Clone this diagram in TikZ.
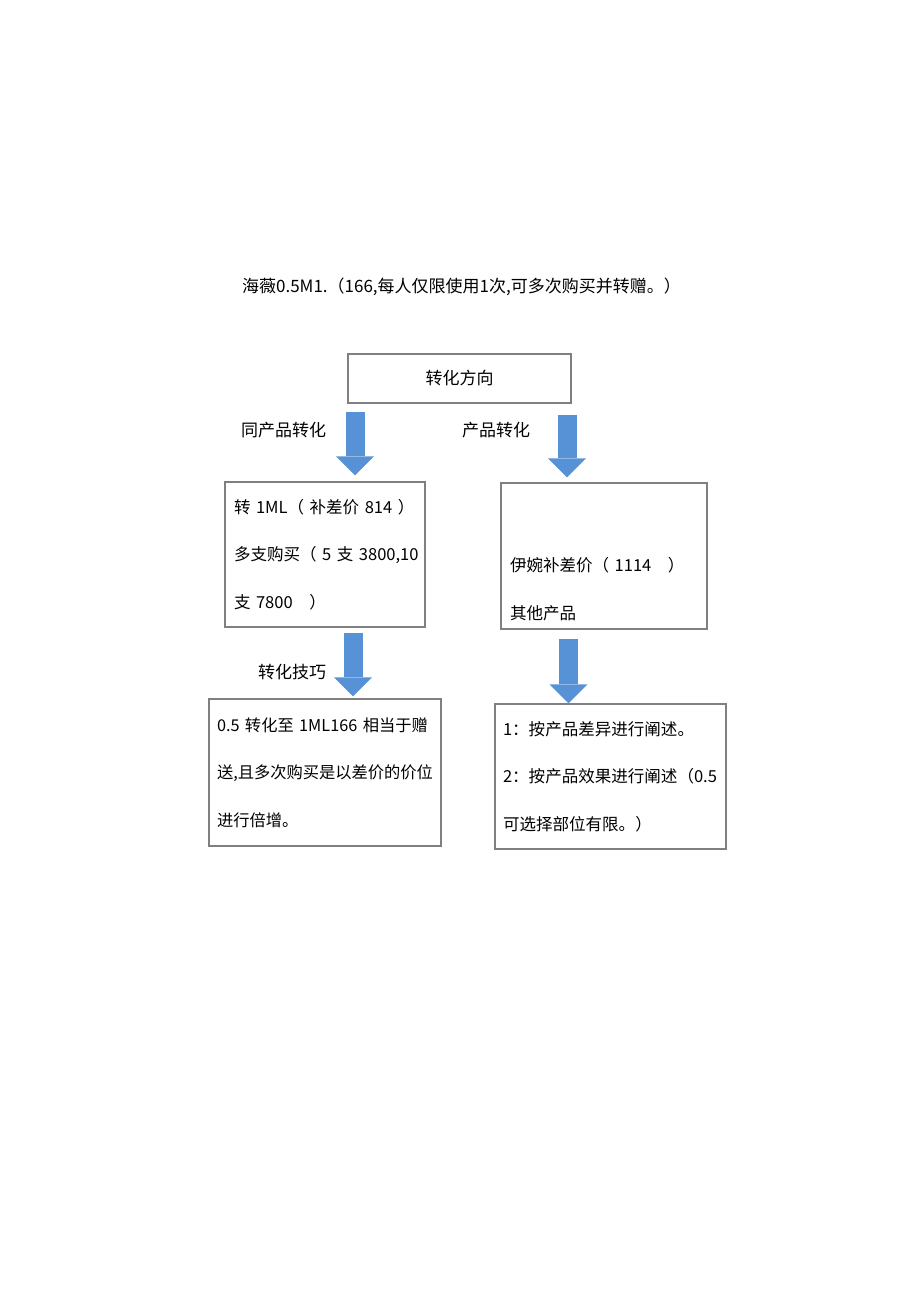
\documentclass[tikz,border=0pt]{standalone}
\usepackage{fontspec}
\setmainfont{Noto Sans CJK SC}
\usetikzlibrary{arrows.meta,calc}
\definecolor{flowblue}{RGB}{88,146,214}
\definecolor{boxgray}{RGB}{128,128,128}

\begin{document}
\begin{tikzpicture}[x=0.75pt, y=-0.75pt,
  tag/.style={font=\fontsize{12.75}{15}\selectfont},
  panel/.style={draw=boxgray, line width=0.8pt, align=left, inner xsep=6pt,
    inner ysep=0pt, font=\fontsize{12.4}{35.5}\selectfont},
  flow/.style={draw=flowblue, line width=14.25pt,
    -{Triangle[width=28.5pt, length=14.25pt, line width=0pt]}}]
  \useasboundingbox (0,0) rectangle (920,1301);

  % Title
  \node[tag] (title) at (461.5,287)
    {海薇0.5M1.（166,每人仅限使用1次,可多次购买并转赠。）};

  % Direction box
  \node[draw=boxgray, line width=0.8pt, minimum width=167.25pt,
    minimum height=36.75pt, tag] (dir) at (459.5,378.5) {转化方向};

  % Branch labels
  \node[tag] (same) at (283.5,430) {同产品转化};
  \node[tag] (other) at (496,430) {产品转化};
  \node[tag] (skill) at (292,672) {转化技巧};

  % Middle boxes
  \node[panel, text width=136.5pt, minimum height=108.75pt, inner xsep=6.75pt]
    (samebox) at (325,554.5)
    {转~1ML（~补差价~814~）\\多支购买（~5~支~3800,10\\支~7800~~~）};
  \node[panel, text width=141pt, minimum height=109.5pt, inner xsep=6.75pt]
    (otherbox) at (604,556)
    {\strut\\伊婉补差价（~1114~~~）\\其他产品};

  % Bottom boxes
  \node[panel, text width=162pt, minimum height=110.25pt,
    font=\fontsize{12.2}{35.5}\selectfont]
    (skillbox) at (325,772.5)
    {0.5~转化至~1ML166~相当于赠\\送,且多次购买是以差价的价位\\进行倍增。};
  \node[panel, text width=161.25pt, minimum height=108.75pt]
    (pitchbox) at (610.5,776.5)
    {1：按产品差异进行阐述。\\2：按产品效果进行阐述（0.5\\可选择部位有限。）};

  % Arrows
  \coordinate (a1) at (355,0);
  \coordinate (a2) at (567,0);
  \coordinate (a3) at (353,0);
  \coordinate (a4) at (568.5,0);
  \draw[flow] ($(dir.south -| a1)+(0,8)$) -- ($(samebox.north -| a1)+(0,-6)$);
  \draw[flow] ($(dir.south -| a2)+(0,11)$) -- ($(otherbox.north -| a2)+(0,-5)$);
  \draw[flow] ($(samebox.south -| a3)+(0,5)$) -- ($(skillbox.north -| a3)+(0,-2)$);
  \draw[flow] ($(otherbox.south -| a4)+(0,9)$) -- (pitchbox.north -| a4);

\end{tikzpicture}
\end{document}
